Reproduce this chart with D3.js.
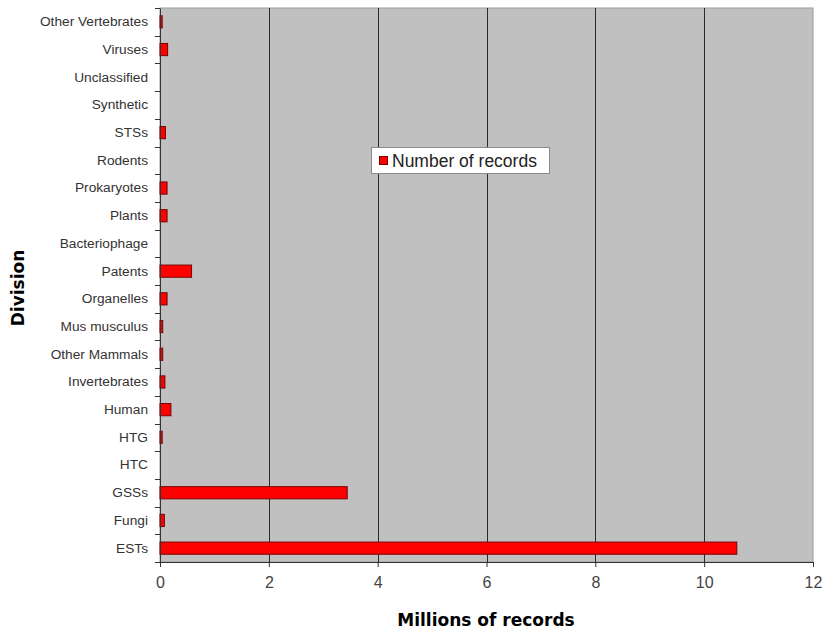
<!DOCTYPE html>
<html>
<head>
<meta charset="utf-8">
<script src="https://cdn.jsdelivr.net/npm/d3@7"></script>
<style>
  html, body { margin: 0; padding: 0; background: #ffffff; }
  svg { display: block; font-family: "Liberation Sans", Arial, sans-serif; }
  .axis-title { font-family: "DejaVu Sans", Verdana, sans-serif; font-weight: bold; }
</style>
</head>
<body>
<svg id="chart" width="824" height="632"></svg>
<script>
// GenBank divisions, listed top to bottom
const divisions = [
  "Other Vertebrates", "Viruses", "Unclassified", "Synthetic", "STSs",
  "Rodents", "Prokaryotes", "Plants", "Bacteriophage", "Patents",
  "Organelles", "Mus musculus", "Other Mammals", "Invertebrates", "Human",
  "HTG", "HTC", "GSSs", "Fungi", "ESTs"
];
// Number of records per division, in millions
const records = [
  0.04, 0.14, 0, 0, 0.10,
  0, 0.13, 0.13, 0, 0.58,
  0.13, 0.05, 0.05, 0.09, 0.20,
  0.04, 0, 3.44, 0.08, 10.6
];
const xTicks = [0, 2, 4, 6, 8, 10, 12];
const seriesName = "Number of records";

const svg = d3.select("#chart");
const plot = { left: 160, right: 813, top: 8, bottom: 562 };

const x = d3.scaleLinear().domain([0, 12]).range([plot.left, plot.right]);
const y = d3.scaleBand().domain(divisions).range([plot.top, plot.bottom])
  .paddingInner(0.56).paddingOuter(0.28);

// plot area
svg.append("rect")
  .attr("x", plot.left).attr("y", plot.top)
  .attr("width", plot.right - plot.left).attr("height", plot.bottom - plot.top)
  .attr("fill", "#c0c0c0").attr("stroke", "#9a9a9a").attr("stroke-width", 1);

// vertical gridlines
svg.append("g").selectAll("line")
  .data(xTicks.filter(d => d > 0 && d < 12))
  .join("line")
  .attr("x1", d => Math.round(x(d)) + 0.5).attr("x2", d => Math.round(x(d)) + 0.5)
  .attr("y1", plot.top).attr("y2", plot.bottom)
  .attr("stroke", "#2a2a2a").attr("stroke-width", 1);

// bars
svg.append("g").selectAll("rect")
  .data(divisions.map((d, i) => ({ name: d, value: records[i] })).filter(d => d.value > 0))
  .join("rect")
  .attr("x", x(0))
  .attr("y", d => y(d.name))
  .attr("width", d => x(d.value) - x(0))
  .attr("height", y.bandwidth())
  .attr("fill", "#ff0000")
  .attr("stroke", "#7a0000")
  .attr("stroke-width", 1);

// x axis
const xAxis = d3.axisBottom(x).tickValues(xTicks).tickSize(5).tickPadding(10)
  .tickFormat(d3.format("d"));
const gx = svg.append("g").attr("transform", `translate(0,${plot.bottom})`).call(xAxis);
gx.attr("font-family", null);
gx.select(".domain").attr("stroke", "#333");
gx.selectAll(".tick line").attr("stroke", "#333");
gx.selectAll(".tick text").attr("font-size", 16).attr("fill", "#444");

// y axis: ticks sit on the band boundaries
const yAxis = d3.axisLeft(y).tickSize(0).tickPadding(12);
const gy = svg.append("g").attr("transform", `translate(${plot.left},0)`).call(yAxis);
gy.attr("font-family", null);
gy.select(".domain").attr("stroke", "#333");
gy.selectAll(".tick text").attr("font-size", 13.7).attr("fill", "#333");
const step = (plot.bottom - plot.top) / divisions.length;
gy.append("g").selectAll("line")
  .data(d3.range(divisions.length + 1))
  .join("line")
  .attr("x1", -5).attr("x2", 0)
  .attr("y1", i => Math.round(plot.top + i * step) + 0.5)
  .attr("y2", i => Math.round(plot.top + i * step) + 0.5)
  .attr("stroke", "#333");

// axis titles
svg.append("text")
  .attr("class", "axis-title")
  .attr("x", 486).attr("y", 626)
  .attr("text-anchor", "middle")
  .attr("font-size", 17).attr("fill", "#000")
  .text("Millions of records");
svg.append("text")
  .attr("class", "axis-title")
  .attr("transform", "translate(24,288) rotate(-90)")
  .attr("text-anchor", "middle")
  .attr("font-size", 17).attr("fill", "#000")
  .text("Division");

// legend
const lg = svg.append("g").attr("transform", "translate(371,147)");
lg.append("rect").attr("x", 0.5).attr("y", 0.5).attr("width", 178).attr("height", 26)
  .attr("fill", "#fff").attr("stroke", "#8a8a8a");
lg.append("rect").attr("x", 8.5).attr("y", 9.5).attr("width", 8).attr("height", 8)
  .attr("fill", "#ff0000").attr("stroke", "#7a0000");
lg.append("text").attr("x", 21).attr("y", 19.5).attr("font-size", 17.5).attr("fill", "#222")
  .text(seriesName);
</script>
</body>
</html>
